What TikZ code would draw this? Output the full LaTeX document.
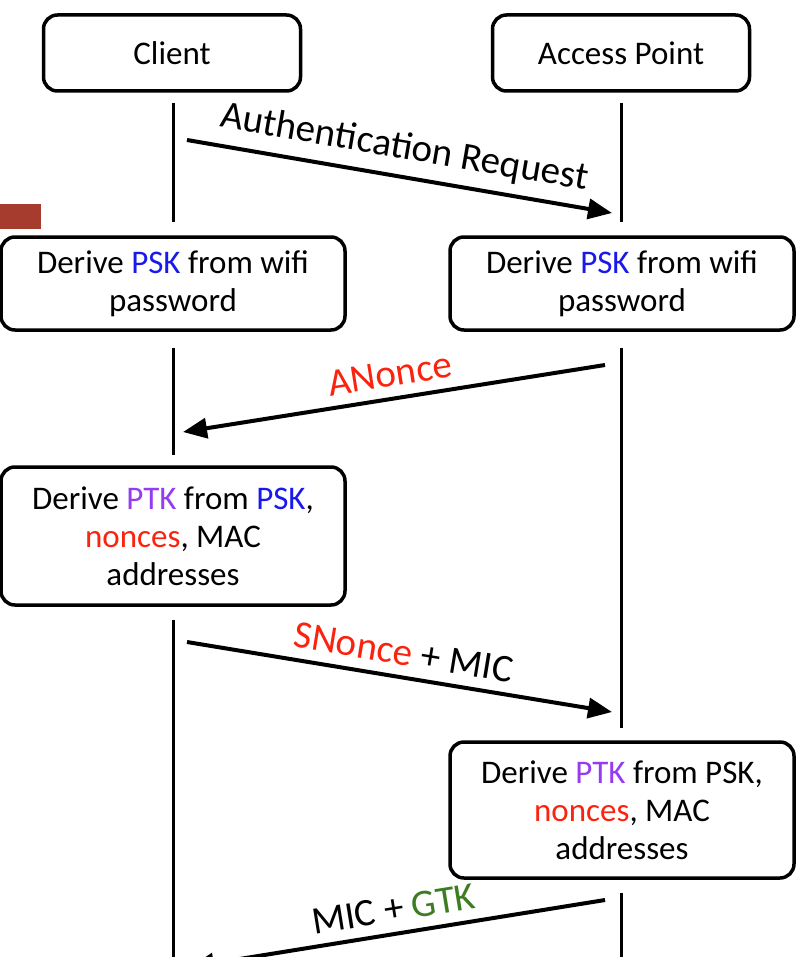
\documentclass[tikz,border=0pt]{standalone}
\usepackage{fontspec}
\setmainfont{Carlito}
\usetikzlibrary{arrows.meta}
\definecolor{pskblue}{RGB}{25,25,235}
\definecolor{ptkpurple}{RGB}{150,60,240}
\definecolor{noncered}{RGB}{250,35,15}
\definecolor{gtkgreen}{RGB}{60,125,35}
\definecolor{tabbrown}{RGB}{165,60,45}
\begin{document}
\begin{tikzpicture}[x=0.5pt, y=-0.5pt, >={Triangle[length=12pt,width=10pt]}]
    \tikzset{party/.style={draw, line width=1.75pt, rounded corners=7pt, inner sep=0pt,
        minimum width=128.5pt, minimum height=38pt, font=\fontsize{16.5}{19}\selectfont}}
    \tikzset{derive/.style={party, minimum width=172pt, align=center}}
    \tikzset{life/.style={line width=1.5pt}}
    \tikzset{msg/.style={line width=2pt, ->}}
    \tikzset{msglabel/.style={midway, above, sloped, inner sep=5pt, font=\fontsize{19.5}{22}\selectfont}}
    \useasboundingbox (0,0) rectangle (800,957);
    \clip (0,0) rectangle (800,957);
    \fill[tabbrown] (0,204) rectangle (41,229);
    \node[party] (client) at (172,53) {Client};
    \node[party] (ap) at (621,53) {Access Point};
    \node[derive, minimum height=46.5pt] (pskc) at (173,283.5)
        {Derive \textcolor{pskblue}{PSK} from wifi\\password};
    \node[derive, minimum height=46.5pt] (pska) at (622,283.5)
        {Derive \textcolor{pskblue}{PSK} from wifi\\password};
    \node[derive, minimum height=69pt] (ptkc) at (173,536)
        {Derive \textcolor{ptkpurple}{PTK} from \textcolor{pskblue}{PSK},\\
         \textcolor{noncered}{nonces}, MAC\\addresses};
    \node[derive, minimum height=68pt] (ptka) at (622,810)
        {Derive \textcolor{ptkpurple}{PTK} from PSK,\\
         \textcolor{noncered}{nonces}, MAC\\addresses};
    \draw[life] (173,103) coordinate (c1) -- (173,222) coordinate (c2);
    \draw[life] (173,348) coordinate (c3) -- (173,455) coordinate (c4);
    \draw[life] (173,620) coordinate (c5) -- (173,965) coordinate (c6);
    \draw[life] (621,103) coordinate (a1) -- (621,222) coordinate (a2);
    \draw[life] (621,348) coordinate (a3) -- (621,728) coordinate (a4);
    \draw[life] (621,893) coordinate (a5) -- (621,965) coordinate (a6);
    \coordinate (authfrom) at (187,140);
    \coordinate (authto) at (612,213);
    \coordinate (anoncefrom) at (605,365);
    \coordinate (anonceto) at (183,432);
    \coordinate (snoncefrom) at (187,642);
    \coordinate (snonceto) at (612,712);
    \coordinate (gtkfrom) at (605,900);
    \coordinate (gtkto) at (190,967);
    \draw[msg] (authfrom) -- (authto)
        node[msglabel] {Authentication Request};
    \draw[msg] (anoncefrom) -- (anonceto)
        node[msglabel] {\textcolor{noncered}{ANonce}};
    \draw[msg] (snoncefrom) -- (snonceto)
        node[msglabel] {\textcolor{noncered}{SNonce}~+~MIC};
    \draw[msg] (gtkfrom) -- (gtkto)
        node[msglabel] {MIC~+~\textcolor{gtkgreen}{GTK}};
\end{tikzpicture}
\end{document}
